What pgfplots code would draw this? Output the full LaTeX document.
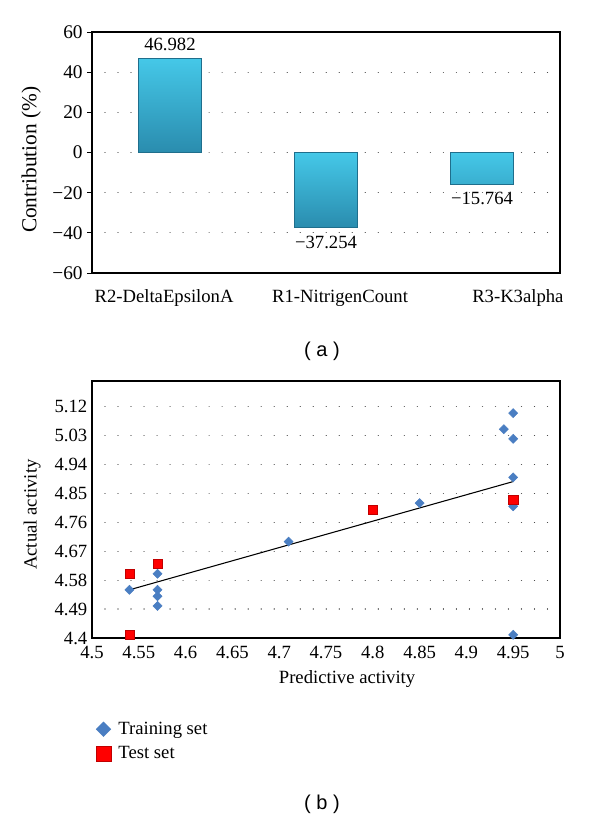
\documentclass[border=0pt]{standalone}
\usepackage{fontspec}
\setmainfont{Liberation Serif}
\newfontfamily\sansf{Liberation Sans}
\usepackage{pgfplots}
\pgfplotsset{compat=1.18}
\definecolor{barTop}{HTML}{45C8E8}
\definecolor{barBot}{HTML}{2A8CAE}
\definecolor{barEdge}{HTML}{1F6E8C}
\definecolor{trainBlue}{HTML}{4A7EC2}
\definecolor{testRed}{HTML}{FF0000}
\definecolor{testEdge}{HTML}{C00000}
\pgfplotstableread{
x y lab
0 46.982 46.982
}\contribpos
\pgfplotstableread{
x y lab
1 -37.254 −37.254
2 -15.764 −15.764
}\contribneg
\pgfplotstableread{
x y
4.54 4.55
4.57 4.60
4.57 4.55
4.57 4.53
4.57 4.50
4.71 4.70
4.85 4.82
4.95 4.81
4.95 4.90
4.95 5.02
4.94 5.05
4.95 5.10
4.95 4.41
}\training
\pgfplotstableread{
x y
4.54 4.60
4.57 4.63
4.54 4.41
4.80 4.80
4.95 4.83
}\test
\begin{document}
\begin{tikzpicture}
\path[use as bounding box, fill=white] (0,0) rectangle (450pt,-614.25pt);
\begin{axis}[
  at={(69pt,-24pt)}, anchor=north west,
  scale only axis, width=351pt, height=180.75pt,
  xmin=-0.5, xmax=2.5, ymin=-60, ymax=60,
  xtick={-0.038,1.09,2.23},
  xticklabels={R2-DeltaEpsilonA,R1-NitrigenCount,R3-K3alpha},
  x tick style={draw=none},
  xticklabel style={font=\fontsize{14}{16}\selectfont, anchor=base, yshift=-18.5pt},
  ytick={-60,-40,-20,0,20,40,60},
  yticklabels={−60,−40,−20,0,20,40,60},
  yticklabel style={font=\fontsize{14.5}{16}\selectfont},
  ytick pos=left, tick align=outside, major tick length=3.5pt,
  y tick style={black, line width=0.6pt},
  ymajorgrids, major grid style={black!70, line width=0.9pt, dash pattern=on 0.01pt off 9.75pt, line cap=round},
  axis line style={line width=0.9pt},
  ylabel={Contribution (\%)},
  ylabel style={font=\fontsize{16}{18}\selectfont, at={(axis description cs:-0.13,0.47)}, anchor=center},
]
\addplot[ybar, bar shift=0pt, bar width=0.4, top color=barTop, bottom color=barBot, draw=barEdge, line width=0.6pt,
  nodes near coords, point meta=explicit symbolic,
  every node near coord/.append style={font=\fontsize{14}{16}\selectfont, inner sep=5.5pt, anchor=south}]
  table[x=x, y=y, meta=lab] {\contribpos};
\addplot[ybar, bar shift=0pt, bar width=0.4, top color=barTop, bottom color=barBot, draw=barEdge, line width=0.6pt,
  nodes near coords, point meta=explicit symbolic,
  every node near coord/.append style={font=\fontsize{14}{16}\selectfont, inner sep=6pt, anchor=north}]
  table[x=x, y=y, meta=lab] {\contribneg};
\end{axis}
\node[font=\sansf\fontsize{15}{17}\selectfont] at (241.5pt,-263.25pt) {( a )};
\begin{axis}[
  at={(69pt,-285.75pt)}, anchor=north west,
  scale only axis, width=351pt, height=192.75pt,
  xmin=4.5, xmax=5, ymin=4.4, ymax=5.2,
  xtick={4.5,4.55,4.6,4.65,4.7,4.75,4.8,4.85,4.9,4.95,5},
  xticklabels={4.5,4.55,4.6,4.65,4.7,4.75,4.8,4.85,4.9,4.95,5},
  ytick={4.4,4.49,4.58,4.67,4.76,4.85,4.94,5.03,5.12},
  yticklabels={4.4,4.49,4.58,4.67,4.76,4.85,4.94,5.03,5.12},
  ticklabel style={font=\fontsize{14}{16}\selectfont},
  xticklabel style={yshift=-2.5pt},
  major tick length=0pt,
  ymajorgrids, major grid style={black!70, line width=0.9pt, dash pattern=on 0.01pt off 9.75pt, line cap=round},
  axis line style={line width=0.9pt},
  xlabel={Predictive activity},
  xlabel style={font=\fontsize{14}{16}\selectfont, at={(axis description cs:0.545,-0.16)}, anchor=center},
  ylabel={Actual activity},
  ylabel style={font=\fontsize{14}{16}\selectfont, at={(axis description cs:-0.128,0.48)}, anchor=center},
  legend style={at={(axis description cs:0.0,-0.305)}, anchor=north west, draw=none, fill=none,
    font=\fontsize{14}{16}\selectfont, row sep=3.5pt},
  legend cell align=left,
  legend image code/.code={\draw[#1, every mark/.append style={scale=1.6}] plot coordinates {(0.2cm,0cm)};
     \path (0.2cm,0pt) ++(9pt,0pt);},
]
\addplot[black, line width=0.8pt, forget plot] coordinates {(4.54,4.55) (4.95,4.887)};
\addplot[only marks, mark=square*, mark size=2.4pt, mark options={rotate=45, fill=trainBlue, draw=trainBlue}]
  table[x=x, y=y] {\training};
\addlegendentry{Training set}
\addplot[only marks, mark=square*, mark size=3.4pt, mark options={fill=testRed, draw=testEdge, line width=0.3pt}]
  table[x=x, y=y] {\test};
\addlegendentry{Test set}
\end{axis}
\node[font=\sansf\fontsize{15}{17}\selectfont] at (241.5pt,-603pt) {( b )};
\end{tikzpicture}
\end{document}
